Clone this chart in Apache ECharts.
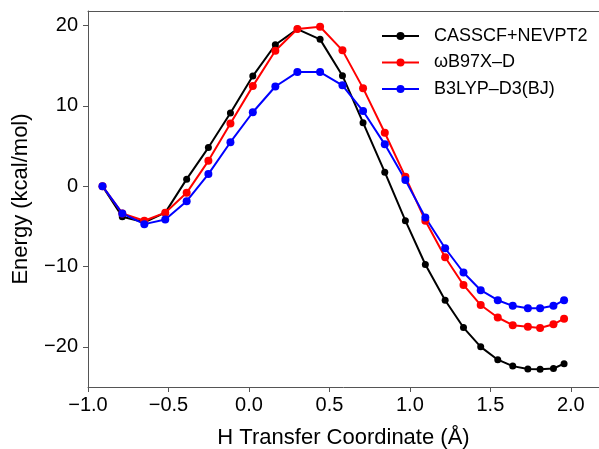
<!DOCTYPE html>
<html>
<head>
<meta charset="utf-8">
<script src="https://cdn.jsdelivr.net/npm/echarts@6/dist/echarts.min.js"></script>
<style>html,body{margin:0;padding:0;background:#fff}#c{width:599px;height:449px}</style>
</head>
<body>
<div id="c"></div>
<script>
const xCoord = [-0.91, -0.787, -0.65, -0.52, -0.387, -0.252, -0.115, 0.024, 0.164, 0.301, 0.442, 0.581, 0.709, 0.844, 0.972, 1.096, 1.219, 1.333, 1.44, 1.546, 1.639, 1.733, 1.809, 1.892, 1.958];
const casscf = [0, -3.8, -4.5, -3.3, 0.87, 4.8, 9.1, 13.7, 17.6, 19.55, 18.27, 13.75, 7.9, 1.74, -4.3, -9.75, -14.2, -17.6, -20.0, -21.6, -22.4, -22.75, -22.8, -22.7, -22.1];
const wb97xd = [0, -3.4, -4.3, -3.3, -0.83, 3.15, 7.8, 12.45, 16.85, 19.55, 19.84, 16.9, 12.2, 6.64, 1.16, -4.3, -8.85, -12.3, -14.8, -16.35, -17.3, -17.5, -17.65, -17.2, -16.5];
const b3lyp = [0, -3.4, -4.73, -4.15, -1.87, 1.5, 5.47, 9.2, 12.4, 14.2, 14.2, 12.55, 9.35, 5.2, 0.75, -3.9, -7.73, -10.75, -12.95, -14.2, -14.9, -15.2, -15.2, -14.9, -14.2];
const seriesNames = ['CASSCF+NEVPT2', 'ωB97X–D', 'B3LYP–D3(BJ)'];
const xTicks = [-1.0, -0.5, 0.0, 0.5, 1.0, 1.5, 2.0];
const yTicks = [-20, -10, 0, 10, 20];

const FONT = '"Liberation Sans", Arial, Helvetica, sans-serif';
const fmt = (v, d) => (d ? Number(v).toFixed(d) : String(Math.round(v))).replace('-', '−');
const pairs = ys => xCoord.map((x, i) => [x, ys[i]]);

const chart = echarts.init(document.getElementById('c'));
const mk = (name, ys, color, size) => ({
  name, type: 'line', data: pairs(ys),
  symbol: 'circle', symbolSize: size,
  lineStyle: { color, width: 2 },
  itemStyle: { color },
  emphasis: { disabled: true },
  animation: false
});
chart.setOption({
  animation: false,
  grid: { left: 88, right: 0, top: 11, bottom: 62, outerBoundsMode: 'none' },
  legend: {
    orient: 'vertical', left: 376, top: 22,
    itemWidth: 37, itemHeight: 10, itemGap: 8.5,
    textStyle: { fontSize: 18, fontFamily: FONT, color: '#000', padding: [0, 0, 0, 10] },
    data: seriesNames
  },
  xAxis: [{
    type: 'value', min: -1.0, max: 2.175,
    axisLine: { show: true, onZero: false, lineStyle: { color: '#555', width: 1 } },
    axisTick: { show: true, length: 5, customValues: xTicks, lineStyle: { color: '#555' } },
    axisLabel: { customValues: xTicks, formatter: v => fmt(v, 1), fontSize: 20, fontFamily: FONT, color: '#000', margin: 8 },
    splitLine: { show: false },
    name: 'H Transfer Coordinate (Å)', nameLocation: 'middle', nameGap: 40,
    nameTextStyle: { fontSize: 22, fontFamily: FONT, color: '#000' }
  }, {
    type: 'value', position: 'top', min: -1.0, max: 2.175,
    axisLine: { show: true, onZero: false, lineStyle: { color: '#555', width: 1 } },
    axisTick: { show: false }, axisLabel: { show: false }, splitLine: { show: false }
  }],
  yAxis: {
    type: 'value', min: -25, max: 21.8,
    axisLine: { show: true, onZero: false, lineStyle: { color: '#555', width: 1 } },
    axisTick: { show: true, length: 5, customValues: yTicks, lineStyle: { color: '#555' } },
    axisLabel: { customValues: yTicks, formatter: v => fmt(v, 0), fontSize: 20, fontFamily: FONT, color: '#000', margin: 10 },
    splitLine: { show: false },
    name: 'Energy (kcal/mol)', nameLocation: 'middle', nameGap: 56, nameRotate: 90,
    nameTextStyle: { fontSize: 22, fontFamily: FONT, color: '#000' }
  },
  series: [
    mk(seriesNames[0], casscf, '#000000', 7),
    mk(seriesNames[1], wb97xd, '#ff0000', 8),
    mk(seriesNames[2], b3lyp, '#0000ff', 8)
  ]
});
</script>
</body>
</html>
